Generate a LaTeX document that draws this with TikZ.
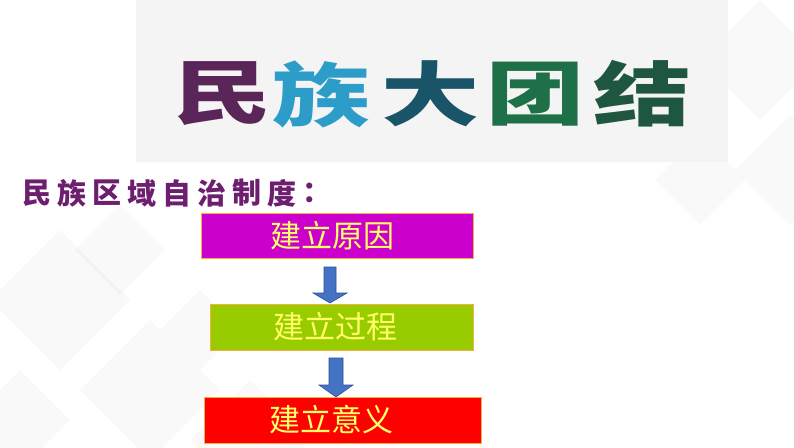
\documentclass[tikz,border=0pt]{standalone}
\usepackage{fontspec}
\newfontfamily\cjk{Noto Sans CJK SC}
\definecolor{banner}{HTML}{F4F4F4}
\definecolor{subpurple}{HTML}{6E1E6E}
\definecolor{boxmag}{HTML}{CC00CC}
\definecolor{boxgreen}{HTML}{99CC00}
\definecolor{boxred}{HTML}{FF0000}
\definecolor{boxtext}{HTML}{FFFF66}
\definecolor{arrowblue}{HTML}{4472C4}
\definecolor{arrowedge}{HTML}{2F528F}
\definecolor{edgeorange}{HTML}{F5B041}
\definecolor{cMin}{HTML}{5A2558}
\definecolor{cZu}{HTML}{2C9CC9}
\definecolor{cDa}{HTML}{1A5468}
\definecolor{cTuan}{HTML}{1D7048}
\definecolor{cJie}{HTML}{1E5640}
\tikzset{
  stepbox/.style={draw=edgeorange, line width=0.8pt, inner sep=0pt, anchor=north west},
  boxlabel/.style={font=\cjk\fontsize{31}{31}\selectfont, text=boxtext, inner sep=0pt},
  titlechar/.style={font=\cjk\bfseries\fontsize{70}{70}\selectfont, xscale=1.4, inner sep=0pt},
  subchar/.style={font=\cjk\bfseries\fontsize{29}{29}\selectfont, text=subpurple, inner sep=0pt},
  blockarrow/.style={fill=arrowblue, draw=arrowedge, line width=0.6pt, line join=miter},
  deco/.style={fill=black, fill opacity=0.025, draw=none}
}
\begin{document}
\begin{tikzpicture}[x=1pt, y=-1pt]
\useasboundingbox (0,0) rectangle (794,447);
\fill[white] (0,0) rectangle (794,447);
% faint background diamonds
\foreach \cx/\cy/\s in {60/300/70, 150/390/70, 20/420/50, 120/250/45, 250/440/60, 200/330/40, 760/60/60, 790/170/55, 700/180/45}{
  \fill[deco] (\cx,\cy-\s) -- (\cx+\s,\cy) -- (\cx,\cy+\s) -- (\cx-\s,\cy) -- cycle;
}
% title banner
\node[fill=banner, inner sep=0pt, anchor=north west, minimum width=592pt, minimum height=162pt] (banner) at (136,0) {};
\node[titlechar, text=cMin] (t1) at (222,94) {民};
\node[titlechar, text=cZu] (t2) at (321,94) {族};
\node[titlechar, text=cDa] (t3) at (430,94) {大};
\node[titlechar, text=cTuan] (t4) at (535,94) {团};
\node[titlechar, text=cJie] (t5) at (642,94) {结};
% subtitle
\foreach \ch [count=\i] in {民,族,区,域,自,治,制,度,：}{
  \node[subchar, anchor=west] (s\i) at ({22+35*(\i-1)},193) {\ch};
}
% boxes
\node[stepbox, fill=boxmag, minimum width=272pt, minimum height=45pt] (b1) at (201,213) {};
\node[boxlabel] (l1) at (332,236) {建立原因};
\node[stepbox, fill=boxgreen, minimum width=263pt, minimum height=46pt] (b2) at (210,304) {};
\node[boxlabel] (l2) at (335,327) {建立过程};
\node[stepbox, fill=boxred, minimum width=277pt, minimum height=46pt] (b3) at (204,397) {};
\node[boxlabel] (l3) at (331,420) {建立意义};
% block arrows
\draw[blockarrow] (324,267) -- (336,267) -- (336,293) -- (347,293) -- (330,303) -- (313,293) -- (324,293) -- cycle;
\draw[blockarrow] (329,358) -- (343,358) -- (343,385) -- (353,385) -- (336,397) -- (319,385) -- (329,385) -- cycle;
\end{tikzpicture}
\end{document}
